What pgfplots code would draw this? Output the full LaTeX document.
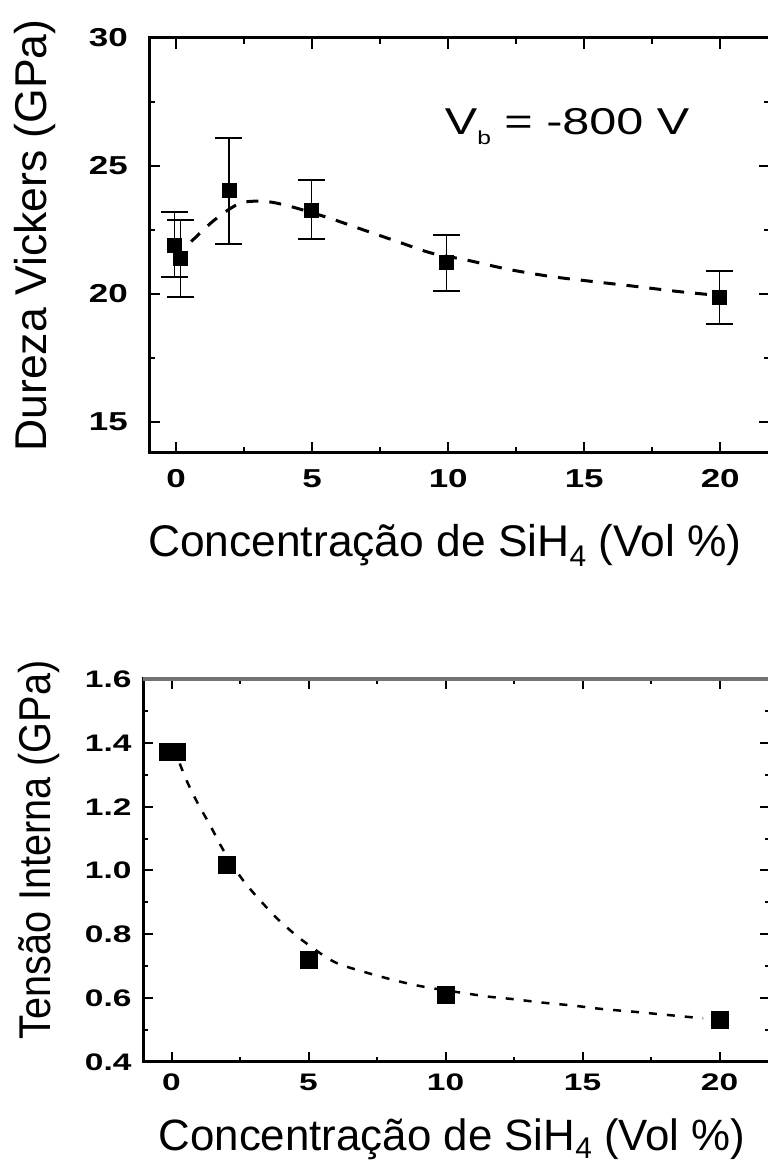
\documentclass[border=0pt]{standalone}
\usepackage{pgfplots}
\pgfplotsset{compat=1.18}
\usepackage{fontspec}
\setmainfont{Liberation Sans}
\usepackage{graphicx}
\begin{document}
\begin{tikzpicture}
\path[use as bounding box] (0,0) rectangle (768bp,1162bp);
% ---------------- top axis ----------------
\begin{axis}[
  at={(149bp,709bp)}, anchor=south west,
  scale only axis, width=621bp, height=415bp,
  xmin=-1, xmax=21.83, ymin=13.78, ymax=30,
  xtick={0,5,10,15,20}, ytick={15,20,25,30},
  minor x tick num=1, minor y tick num=1,
  tick align=inside, major tick length=11bp, minor tick length=6bp,
  every tick/.style={line width=2bp, black},
  axis line style={line width=3bp},
  /pgf/number format/assume math mode=true,
  tick label style={inner sep=0pt, font=\fontsize{26}{26}\selectfont\bfseries},
  xticklabel={\scalebox{1.35}[1]{\pgfmathprintnumber{\tick}}},
  yticklabel={\scalebox{1.35}[1]{\pgfmathprintnumber{\tick}}},
  xticklabel style={anchor=north, yshift=-16bp},
  yticklabel style={anchor=east, xshift=-21bp},
  clip=false,
]
\addplot[black, line width=3bp, dash pattern=on 12bp off 11bp, smooth, tension=0.5, no marks] coordinates {
 (0.55,22.04) (1.41,22.89) (2.35,23.54) (3.29,23.61) (4.22,23.41) (5.63,22.96)
 (6.88,22.50) (8.14,22.04) (9.39,21.59) (10.64,21.33) (12.2,20.96) (13.76,20.68)
 (15.33,20.48) (16.89,20.29) (18.46,20.09) (19.71,19.96)
};
\addplot[only marks, mark=square*, mark size=7bp, black,
  error bars/.cd, y dir=both, y explicit,
  error bar style={line width=1.5bp, black},
  error mark options={rotate=90, line width=2bp, mark size=13.5bp, black}]
 table[x=x, y=y, y error plus=ep, y error minus=em] {
 x y ep em
 -0.06 21.91 1.27 1.26
 0.16 21.39 1.50 1.51
 1.94 24.06 2.05 2.11
 4.97 23.28 1.17 1.14
 9.93 21.22 1.07 1.09
 19.98 19.87 1.04 1.04
};
\node[anchor=base west, inner sep=0pt, font=\fontsize{37.5}{37.5}\selectfont] at (axis cs:9.87,26.21)
  {\scalebox{1.3}[1]{V\raisebox{-10bp}{\fontsize{19}{19}\selectfont b} = -800 V}};
\end{axis}
% ---------------- bottom axis ----------------
\begin{axis}[
  at={(143.3bp,100bp)}, anchor=south west,
  scale only axis, width=626.7bp, height=383bp,
  xmin=-1.03, xmax=21.84, ymin=0.4, ymax=1.6,
  xtick={0,5,10,15,20}, ytick={0.4,0.6,0.8,1.0,1.2,1.4,1.6},
  minor x tick num=1, minor y tick num=1,
  tick align=inside, major tick length=10bp, minor tick length=5bp,
  every tick/.style={line width=2bp, black},
  axis line style={line width=3bp},
  /pgf/number format/assume math mode=true,
  tick label style={inner sep=0pt, font=\fontsize{24}{24}\selectfont\bfseries},
  xticklabel={\scalebox{1.4}[1]{\pgfmathprintnumber{\tick}}},
  yticklabel={\scalebox{1.4}[1]{\pgfmathprintnumber[fixed,fixed zerofill,precision=1]{\tick}}},
  xticklabel style={anchor=north, yshift=-12bp},
  yticklabel style={anchor=east, xshift=-11.6bp},
  clip=false,
]
\draw[black!55, line width=4bp] (rel axis cs:0,1) -- (rel axis cs:1,1);
\addplot[black, line width=2.5bp, dash pattern=on 8bp off 10bp, smooth, tension=0.5, no marks] coordinates {
 (0.3,1.335) (0.57,1.278) (0.96,1.21) (1.40,1.143) (1.89,1.064) (2.51,0.981)
 (3.06,0.923) (3.91,0.845) (4.84,0.777) (5.93,0.714) (7.0,0.683) (8.1,0.657)
 (9.19,0.636) (11.37,0.607) (12.46,0.597) (13.54,0.586) (14.63,0.577)
 (15.71,0.566) (16.8,0.558) (17.9,0.549) (19.0,0.540) (19.4,0.537)
};
\addplot[only marks, mark=square*, mark size=8.5bp, black] table {
 x y
 -0.13 1.372
 0.2 1.372
 2.0 1.017
 5.0 0.720
 10.0 0.611
 20.0 0.532
};
\end{axis}
% ---------------- axis titles ----------------
\node[rotate=90, anchor=base, inner sep=0pt, font=\fontsize{44.7}{44.7}\selectfont] at (46bp,926.5bp)
  {Dureza Vickers (GPa)};
\node[anchor=base, inner sep=0pt, font=\fontsize{44.5}{44.5}\selectfont] at (444.8bp,605bp)
  {Concentração de SiH\raisebox{-10bp}{\fontsize{30}{30}\selectfont 4} (Vol \%)};
\node[rotate=90, anchor=base, inner sep=0pt, font=\fontsize{44.7}{44.7}\selectfont] at (50bp,312bp)
  {\scalebox{0.89}[1]{Tensão Interna (GPa)}};
\node[anchor=base, inner sep=0pt, font=\fontsize{44}{44}\selectfont] at (452bp,12bp)
  {Concentração de SiH\raisebox{-8bp}{\fontsize{30}{30}\selectfont 4} (Vol \%)};
\end{tikzpicture}
\end{document}
